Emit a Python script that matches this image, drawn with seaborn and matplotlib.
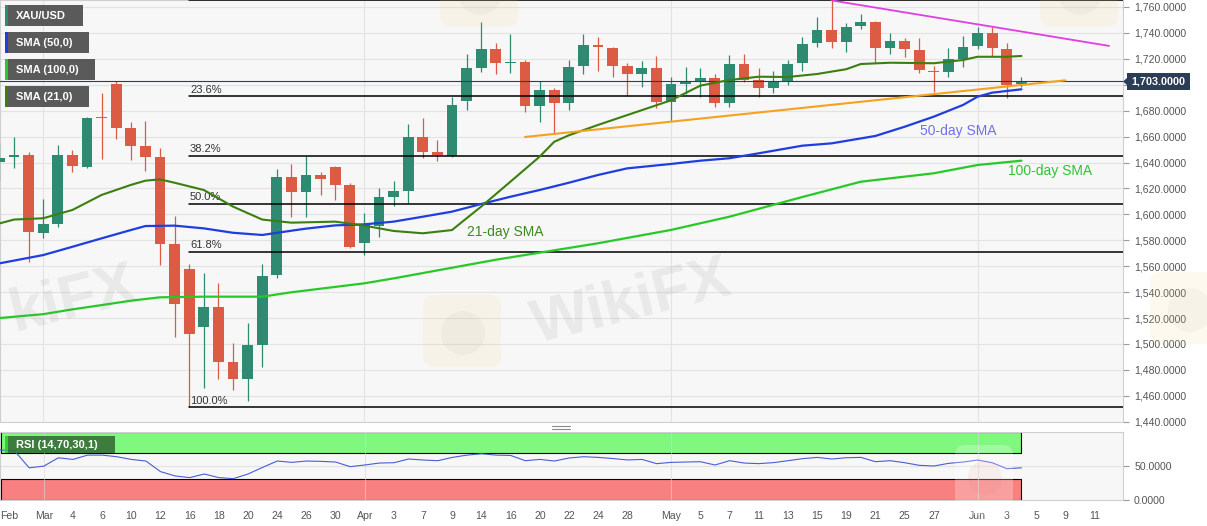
import matplotlib
matplotlib.use('Agg')
import matplotlib.pyplot as plt
import matplotlib.patches as mpatches
import numpy as np
import pandas as pd
import seaborn as sns

# candle index 0 = Mar 2 2020 (trading days only)
day_idx = list(range(-3, 68))
opens = [1640.6, 1644.0, 1645.8, 1585.4, 1592.3, 1645.8, 1636.8, 1674.8, 1700.3, 1666.4,
         1652.5, 1644.0, 1577.4, 1557.6, 1513.3, 1528.7, 1486.0, 1473.2, 1499.2, 1553.2,
         1629.0, 1617.0, 1630.4, 1636.3, 1622.7, 1578.1, 1591.3, 1613.6, 1618.3, 1660.0,
         1648.3, 1645.0, 1687.7, 1713.2, 1727.6, 1716.6, 1717.3, 1683.8, 1696.0, 1686.2,
         1714.7, 1730.7, 1728.6, 1714.5, 1708.3, 1713.2, 1686.9, 1700.6, 1703.1, 1705.0,
         1685.7, 1716.0, 1703.7, 1697.7, 1702.9, 1716.6, 1732.0, 1742.3, 1733.2, 1745.3,
         1748.7, 1728.1, 1734.0, 1726.8, 1710.8, 1710.0, 1719.6, 1729.9, 1739.7, 1727.6,
         1700.6]
highs = [1654.8, 1660.0, 1648.3, 1611.6, 1653.5, 1649.7, 1675.0, 1693.4, 1703.1, 1671.5,
         1672.0, 1651.0, 1598.7, 1561.7, 1554.5, 1546.8, 1501.0, 1516.4, 1561.4, 1634.8,
         1638.9, 1645.0, 1632.9, 1637.0, 1624.4, 1600.8, 1620.6, 1626.0, 1669.5, 1674.1,
         1657.4, 1690.8, 1723.5, 1748.2, 1732.0, 1739.2, 1719.1, 1703.1, 1697.7, 1719.1,
         1739.0, 1736.6, 1729.0, 1716.6, 1718.3, 1722.2, 1705.8, 1713.5, 1712.7, 1708.3,
         1723.0, 1723.7, 1712.7, 1710.8, 1719.1, 1736.6, 1752.0, 1765.1, 1747.9, 1754.4,
         1749.4, 1740.2, 1735.8, 1735.8, 1714.7, 1728.1, 1737.9, 1744.8, 1744.3, 1732.0,
         1706.2]
lows = [1626.5, 1635.5, 1563.0, 1581.5, 1590.0, 1632.4, 1636.0, 1642.5, 1657.9, 1641.9,
        1633.5, 1560.9, 1505.6, 1451.4, 1465.8, 1472.7, 1464.5, 1456.0, 1482.5, 1551.0,
        1598.2, 1598.2, 1614.9, 1611.0, 1574.0, 1568.6, 1582.8, 1606.7, 1609.0, 1643.3,
        1641.4, 1644.0, 1680.5, 1710.0, 1708.3, 1709.3, 1679.2, 1671.5, 1662.0, 1680.5,
        1708.3, 1710.8, 1706.2, 1691.3, 1698.0, 1681.8, 1672.3, 1692.6, 1690.3, 1682.6,
        1682.6, 1702.4, 1690.8, 1693.9, 1699.8, 1710.8, 1728.9, 1728.1, 1725.5, 1742.8,
        1717.0, 1723.7, 1721.6, 1709.3, 1694.2, 1705.8, 1713.5, 1727.4, 1722.4, 1689.5,
        1698.0]
closes = [1643.3, 1645.8, 1586.2, 1592.3, 1645.8, 1637.3, 1674.6, 1674.2, 1666.9, 1653.0,
          1644.3, 1577.4, 1530.6, 1507.4, 1528.7, 1486.3, 1473.2, 1498.9, 1552.7, 1628.8,
          1617.0, 1630.4, 1627.0, 1622.7, 1575.0, 1591.8, 1613.2, 1618.3, 1660.0, 1648.3,
          1645.8, 1684.4, 1713.2, 1727.6, 1716.6, 1717.3, 1683.8, 1696.0, 1685.7, 1714.0,
          1730.7, 1728.9, 1714.7, 1708.3, 1713.2, 1686.9, 1700.3, 1702.4, 1705.0, 1685.7,
          1716.0, 1703.7, 1697.7, 1702.4, 1716.0, 1731.5, 1742.3, 1733.2, 1744.8, 1748.7,
          1728.1, 1734.0, 1727.4, 1711.4, 1709.8, 1719.6, 1729.4, 1739.7, 1728.1, 1699.8,
          1703.0]

# moving averages
sma21_idx = [-3, -2, 0, 2, 4, 6, 7, 8, 9, 11, 13, 15, 17, 20, 22, 24, 26, 28, 29, 30, 32,
             34, 35, 36, 37, 38, 40, 43, 45, 47, 49, 51, 53, 55, 56, 58, 61, 63, 64, 66, 67]
sma21 = [1593.0, 1596.0, 1597.0, 1603.4, 1615.0, 1622.7, 1626.0, 1627.0, 1624.4, 1618.8,
         1606.0, 1596.0, 1593.6, 1594.4, 1591.3, 1587.2, 1585.4, 1587.9, 1597.0, 1606.0,
         1625.2, 1644.5, 1656.0, 1661.0, 1665.0, 1669.0, 1676.6, 1688.0, 1699.3, 1703.7,
         1706.2, 1706.0, 1708.3, 1712.0, 1716.0, 1717.0, 1716.6, 1719.1, 1721.6, 1721.6,
         1722.2]
sma50_idx = [-3, 0, 2, 4, 6, 7, 9, 11, 13, 15, 17, 18, 20, 22, 24, 26, 28, 30, 32, 34, 36,
             38, 40, 43, 45, 47, 49, 52, 54, 57, 59, 61, 63, 64, 65, 67]
sma50 = [1562.2, 1568.6, 1575.0, 1581.5, 1587.9, 1591.0, 1591.3, 1589.2, 1585.8, 1584.1,
         1587.4, 1589.0, 1591.5, 1592.3, 1594.4, 1598.2, 1602.1, 1608.0, 1613.6, 1618.8,
         1624.4, 1630.4, 1635.5, 1638.9, 1641.4, 1643.3, 1647.1, 1653.0, 1654.8, 1660.5,
         1667.6, 1675.4, 1684.4, 1690.8, 1693.9, 1696.5]
sma100_idx = [-3, 0, 2, 4, 6, 8, 11, 15, 17, 22, 24, 31, 38, 43, 47, 52, 56, 61, 64, 67]
sma100 = [1520.0, 1523.0, 1526.7, 1530.0, 1533.4, 1536.0, 1536.5, 1536.5, 1539.9, 1546.8,
          1550.6, 1565.0, 1577.7, 1588.0, 1598.2, 1613.4, 1625.2, 1631.7, 1638.1, 1641.4]

rsi = [74.0, 72.5, 47.3, 49.8, 62.2, 59.8, 66.2, 66.2, 63.8, 59.8, 57.4, 41.6, 35.2, 32.7,
       38.1, 32.7, 31.2, 38.1, 48.0, 57.4, 55.4, 57.4, 56.9, 55.9, 49.0, 51.5, 54.4, 54.9,
       60.4, 58.9, 57.9, 62.8, 66.2, 68.2, 66.2, 65.7, 57.9, 59.8, 57.4, 61.9, 63.8, 62.8,
       61.1, 59.0, 59.8, 53.5, 55.4, 55.9, 56.4, 51.5, 57.9, 54.4, 53.5, 55.0, 57.9, 60.9,
       62.8, 60.4, 62.3, 62.8, 56.4, 57.9, 54.9, 51.0, 50.0, 53.9, 55.9, 58.9, 54.9, 46.0,
       47.3]

fib_low = 1451.3
fib_high = 1765.1
fib_ratios = [0.0, 0.236, 0.382, 0.5, 0.618, 1.0]
fib_names = ['0.0%', '23.6%', '38.2%', '50.0%', '61.8%', '100.0%']

last_price = 1703.0
resist_line = ([54, 73], [1765.1, 1730.0])
support_line = ([33, 70], [1659.7, 1703.4])

tick_idx = [-3, 0, 2, 4, 6, 8, 10, 12, 14, 16, 18, 20, 22, 24, 26, 28, 30, 32, 34, 36, 38,
            40, 43, 45, 47, 49, 51, 53, 55, 57, 59, 61, 64, 66, 68, 70, 72]
tick_lbl = ['Feb', 'Mar', '4', '6', '10', '12', '16', '18', '20', '24', '26', '30', 'Apr',
            '3', '7', '9', '14', '16', '20', '22', '24', '28', 'May', '5', '7', '11', '13',
            '15', '19', '21', '25', '27', 'Jun', '3', '5', '9', '11']
month_idx = [0, 22, 43, 64]

UP = '#2f8a72'
DOWN = '#dc5b44'
C21 = '#3b7f10'
C50 = '#1f3ee0'
C100 = '#27c927'
GRID = '#e3e3e3'
BG = '#f7f7f7'

sns.set_style('white')
plt.rcParams['font.family'] = ['Liberation Sans', 'DejaVu Sans']

df = pd.DataFrame({'idx': day_idx, 'open': opens, 'high': highs, 'low': lows, 'close': closes})
df['up'] = df['close'] >= df['open']
df['color'] = np.where(df['up'], UP, DOWN)
df['bottom'] = df[['open', 'close']].min(axis=1)
df['height'] = (df['close'] - df['open']).abs().clip(lower=0.8)

fig = plt.figure(figsize=(12.07, 5.26), dpi=100, facecolor='white')
W, H = 1207.0, 526.0
ax = fig.add_axes([0, 1 - 422 / H, 1123 / W, 422 / H], facecolor=BG)
rax = fig.add_axes([0, 1 - 500 / H, 1123 / W, 68 / H], facecolor=BG)

xmin, xmax = -2.96, 73.96

# ---- price panel
ax.set_xlim(xmin, xmax)
ax.set_ylim(1439.8, 1765.4)
yt = list(range(1440, 1761, 20))
ax.set_yticks(yt)
ax.set_yticklabels(['' if v == 1700 else f'{v:,.4f}' for v in yt])
ax.yaxis.tick_right()
ax.tick_params(axis='y', length=4, width=0.8, color='#999999', labelsize=7.6,
               labelcolor='#555555', pad=4)
ax.tick_params(axis='x', length=0, labelbottom=False)
ax.grid(axis='y', color=GRID, lw=0.8)
for m in month_idx:
    ax.axvline(m, color=GRID, lw=0.8, zorder=0)
for s in ax.spines.values():
    s.set_color('#cfcfcf')
    s.set_linewidth(0.8)

ax.vlines(df['idx'], df['low'], df['high'], colors=df['color'], lw=0.9, zorder=3)
ax.bar(df['idx'], df['height'], bottom=df['bottom'], width=0.74, color=df['color'],
       linewidth=0, zorder=4)

for lvl, name in zip(fib_ratios, fib_names):
    price = fib_high - lvl * (fib_high - fib_low)
    ax.plot([10, xmax], [price, price], color='black', lw=1.1, zorder=5)
    if lvl > 0:
        ax.text(10.05, price + 1.2, name, fontsize=8, color='#333333', ha='left',
                va='bottom', zorder=6)

ax.axhline(last_price, color='#2c3e55', lw=0.8, zorder=5)

sns.lineplot(x=sma100_idx, y=sma100, ax=ax, color=C100, lw=1.6, zorder=6)
sns.lineplot(x=sma50_idx, y=sma50, ax=ax, color=C50, lw=1.6, zorder=6)
sns.lineplot(x=sma21_idx, y=sma21, ax=ax, color=C21, lw=1.5, zorder=6)
sns.lineplot(x=resist_line[0], y=resist_line[1], ax=ax, color='#e03ee0', lw=1.3, zorder=6)
sns.lineplot(x=support_line[0], y=support_line[1], ax=ax, color='#f5a21e', lw=1.5, zorder=6)

ax.text(29.0, 1586.4, '21-day SMA', fontsize=10, color='#3d8a1f', ha='left', va='center', zorder=7)
ax.text(60.05, 1664.3, '50-day SMA', fontsize=10, color='#7070ee', ha='left', va='center', zorder=7)
ax.text(66.1, 1633.5, '100-day SMA', fontsize=10, color='#2cc42c', ha='left', va='center', zorder=7)
ax.set_xlabel('')
ax.set_ylabel('')

# ---- RSI panel
rax.set_xlim(xmin, xmax)
rax.set_ylim(-0.6, 100.6)
rax.add_patch(mpatches.Rectangle((xmin, 70), 67 - xmin, 31, fc='#80f880', ec='black', lw=0.8, zorder=1))
rax.add_patch(mpatches.Rectangle((xmin, -1), 67 - xmin, 31, fc='#f88080', ec='black', lw=0.8, zorder=1))
rax.axhline(50, color=GRID, lw=0.8, zorder=0)
for m in month_idx:
    rax.axvline(m, color='#d8d8d8', lw=0.8, zorder=1.5, alpha=0.6)
sns.lineplot(x=day_idx, y=rsi, ax=rax, color='#4a5cd6', lw=0.8, zorder=3)
rax.set_xlabel('')
rax.set_ylabel('')
rax.yaxis.tick_right()
rax.set_yticks([0, 50])
rax.set_yticklabels(['0.0000', '50.0000'])
rax.set_xticks(tick_idx)
rax.set_xticklabels(tick_lbl)
rax.get_xticklabels()[0].set_ha('left')
rax.tick_params(axis='both', length=4, width=0.8, color='#999999', labelsize=7.6,
                labelcolor='#555555', pad=4)
for s in rax.spines.values():
    s.set_color('#cfcfcf')
    s.set_linewidth(0.8)

# ---- overlay in pixel coordinates: watermark, legend boxes, price tag, panel handle
ov = fig.add_axes([0, 0, 1, 1], facecolor='none')
ov.set_xlim(0, W)
ov.set_ylim(H, 0)
ov.axis('off')

# faint WikiFX watermarks
for (ix, iy) in [(423, 295), (440, -45), (1040, -45), (1150, 272)]:
    ov.add_patch(mpatches.FancyBboxPatch((ix, iy), 78, 72, boxstyle='round,pad=0,rounding_size=12',
                                         fc='#f0d27a', ec='none', alpha=0.12))
    ov.add_patch(mpatches.Circle((ix + 40, iy + 38), 22, fc='#9a9a9a', ec='none', alpha=0.07))
ov.add_patch(mpatches.FancyBboxPatch((955, 445), 58, 70, boxstyle='round,pad=0,rounding_size=10',
                                     fc='white', ec='none', alpha=0.25))
ov.add_patch(mpatches.Circle((985, 478), 17, fc='#e06060', ec='none', alpha=0.08))
ov.text(632, 303, 'WikiFX', fontsize=44, fontweight='bold', color='#808080', alpha=0.12,
        ha='center', va='center', rotation=14)
ov.text(4, 300, 'kiFX', fontsize=44, fontweight='bold', color='#808080', alpha=0.12,
        ha='left', va='center', rotation=14)

legend_boxes = [('XAU/USD', 5, 78, UP), ('SMA (50,0)', 32, 84, C50),
                ('SMA (100,0)', 59, 90, C100), ('SMA (21,0)', 86, 84, C21)]
for label, top, width, col in legend_boxes:
    ov.add_patch(mpatches.Rectangle((5, top), width, 21, fc='#5a5a5a', ec='none'))
    ov.add_patch(mpatches.Rectangle((5, top), 2.5, 21, fc=col, ec='none'))
    ov.text(16, top + 10.8, label, color='white', fontsize=8, fontweight='bold',
            ha='left', va='center')

ov.add_patch(mpatches.Rectangle((5, 436), 110, 17, fc='#356f35', ec='none', alpha=0.9))
ov.add_patch(mpatches.Rectangle((5, 436), 2.5, 17, fc='#30d030', ec='none'))
ov.text(16, 444.8, 'RSI (14,70,30,1)', color='white', fontsize=8, fontweight='bold',
        ha='left', va='center')

ov.add_patch(mpatches.Rectangle((1127, 73), 63, 17, fc='#2c3e56', ec='none'))
ov.add_patch(mpatches.Polygon([(1123, 81.5), (1127.5, 77.5), (1127.5, 85.5)], fc='#2c3e56', ec='none'))
ov.text(1158.5, 81.8, f'{last_price:,.4f}', color='white', fontsize=7.8, fontweight='bold',
        ha='center', va='center')

for yy in (426.3, 428.6):
    ov.plot([552, 570], [yy, yy], color='#8a8a8a', lw=0.8)

fig.savefig('out.png', dpi=100, facecolor='white')
